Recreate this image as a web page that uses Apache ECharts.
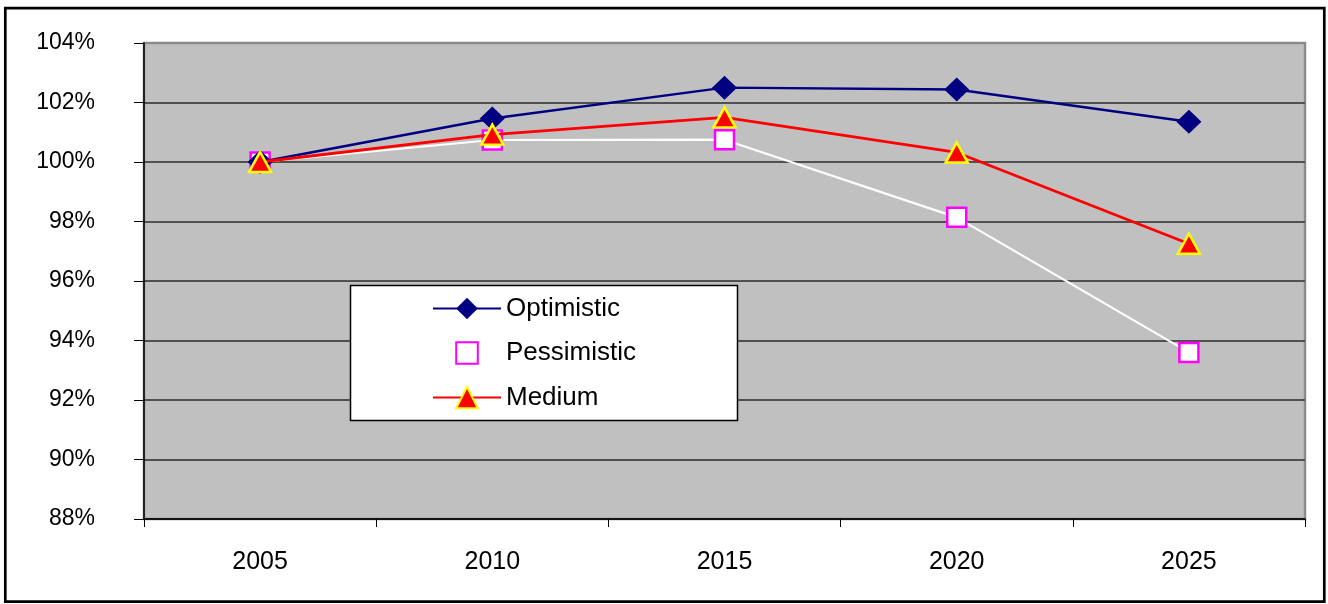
<!DOCTYPE html>
<html>
<head>
<meta charset="utf-8">
<script src="https://cdn.jsdelivr.net/npm/echarts@6/dist/echarts.min.js"></script>
<style>
  html, body { margin: 0; padding: 0; background: #ffffff; }
  #chart { width: 1328px; height: 604px; }
</style>
</head>
<body>
<div id="chart"></div>
<script>
// Population index scenarios, 2005 = 100%
const years = ['2005', '2010', '2015', '2020', '2025'];
const optimistic = [100.00, 101.46, 102.50, 102.44, 101.35];
const pessimistic = [100.00, 100.74, 100.75, 98.14, 93.60];
const medium = [100.00, 100.92, 101.50, 100.32, 97.25];
const seriesNames = ['Optimistic', 'Pessimistic', 'Medium'];

const FONT = '"Liberation Sans", Arial, sans-serif';

// horizontal grid lines: darker inside, lighter on the top edge (104%)
const gridColors = ['#505050', '#505050', '#505050', '#505050', '#505050',
                    '#505050', '#505050', '#505050', '#8a8a8a'];

const chart = echarts.init(document.getElementById('chart'), null, { renderer: 'canvas' });

chart.setOption({
  animation: false,
  backgroundColor: '#ffffff',
  grid: {
    left: 144, right: 23, top: 43, bottom: 85,
    show: true,
    backgroundColor: '#c0c0c0',
    borderColor: '#8a8a8a',
    borderWidth: 2.5
  },
  xAxis: {
    type: 'category',
    data: years,
    boundaryGap: true,
    axisLine: { lineStyle: { color: '#000000', width: 1.5 } },
    axisTick: { show: true, length: 8, inside: false, lineStyle: { color: '#000000', width: 1 } },
    axisLabel: { color: '#000000', fontSize: 25, fontFamily: FONT, margin: 31 },
    splitLine: { show: false }
  },
  yAxis: {
    type: 'value',
    min: 88, max: 104, interval: 2,
    axisLine: { show: true, lineStyle: { color: '#000000', width: 1.5 } },
    axisTick: { show: true, length: 10, inside: false, lineStyle: { color: '#000000', width: 1 } },
    axisLabel: {
      color: '#000000', fontSize: 23, fontFamily: FONT, margin: 49,
      formatter: function (v) { return v + '%'; }
    },
    splitLine: { show: true, lineStyle: { color: gridColors, width: 2 } }
  },
  legend: {
    orient: 'vertical',
    left: 432, top: 295,
    padding: 0,
    itemWidth: 68, itemHeight: 27, itemGap: 17.5,
    z: 10,
    data: seriesNames,
    textStyle: { color: '#000000', fontSize: 26, fontFamily: FONT, lineHeight: 27 }
  },
  graphic: [
    {
      // legend frame
      type: 'rect', z: 5,
      shape: { x: 350.5, y: 285.5, width: 387, height: 135 },
      style: { fill: '#ffffff', stroke: '#000000', lineWidth: 1.5 }
    },
    {
      // outer chart frame
      type: 'rect', z: 5,
      shape: { x: 5.3, y: 8.2, width: 1319, height: 593.5 },
      style: { fill: null, stroke: '#000000', lineWidth: 2.7 }
    }
  ],
  series: [
    {
      name: 'Optimistic',
      type: 'line',
      data: optimistic,
      symbol: 'diamond',
      symbolSize: [25, 24],
      showAllSymbol: true,
      lineStyle: { color: '#000080', width: 2.5 },
      itemStyle: { color: '#000080', borderWidth: 0 },
      z: 3
    },
    {
      name: 'Pessimistic',
      type: 'line',
      data: pessimistic,
      symbol: 'rect',
      symbolSize: 19,
      showAllSymbol: true,
      lineStyle: { color: '#ffffff', width: 2.2 },
      itemStyle: { color: '#ffffff', borderColor: '#ff00ff', borderWidth: 2.5 },
      z: 2
    },
    {
      name: 'Medium',
      type: 'line',
      data: medium,
      symbol: 'triangle',
      symbolSize: [22, 20],
      showAllSymbol: true,
      lineStyle: { color: '#ff0000', width: 2.8 },
      itemStyle: { color: '#ff0000', borderColor: '#ffff00', borderWidth: 2.5 },
      z: 4
    }
  ]
});
</script>
</body>
</html>
